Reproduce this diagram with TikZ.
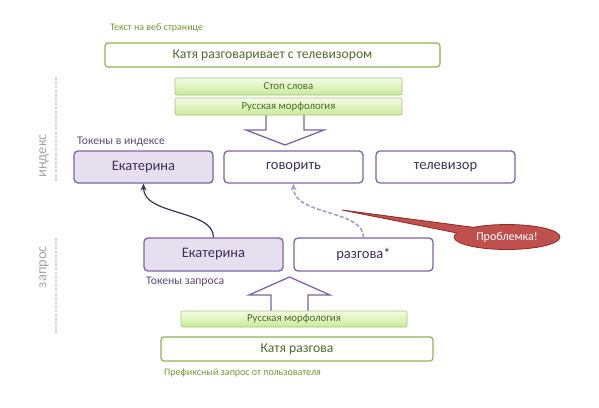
\documentclass[tikz,border=0pt]{standalone}
\usepackage{fontspec}
\setmainfont{Carlito}
\usetikzlibrary{shapes.callouts,shapes.geometric,arrows.meta}
\definecolor{grnline}{HTML}{8DB552}
\definecolor{grntext}{HTML}{6E9B32}
\definecolor{grndark}{HTML}{4F6B2A}
\definecolor{grntop}{HTML}{F4FCE6}
\definecolor{grnbot}{HTML}{C8EB98}
\definecolor{purline}{HTML}{7E63A6}
\definecolor{purtext}{HTML}{3E2F5B}
\definecolor{purlabel}{HTML}{5A4780}
\definecolor{purfill}{HTML}{E6E0EE}
\definecolor{dashpur}{HTML}{A79BC9}
\definecolor{redfill}{HTML}{C0504D}
\definecolor{redline}{HTML}{8C2B28}
\definecolor{sidegrey}{HTML}{A6A6A6}
\definecolor{sideline}{HTML}{D4D4D4}
\begin{document}
\begin{tikzpicture}[x=1pt,y=-1pt,
  webbox/.style={draw=grnline, line width=1.2pt, rounded corners=3pt, fill=white,
    text=grndark, font=\fontsize{13.6}{15}\selectfont, inner sep=0pt, minimum height=24pt},
  morphbox/.style={draw=grnline!80, line width=0.6pt, rounded corners=2pt, top color=grntop,
    bottom color=grnbot, text=grndark, font=\fontsize{10.8}{12}\selectfont, inner sep=0pt},
  tokbox/.style={draw=purline, line width=1.3pt, rounded corners=4pt, fill=white,
    text=purtext, font=\fontsize{14.5}{16}\selectfont, inner sep=0pt,
    minimum width=139pt, minimum height=32pt},
  hitbox/.style={tokbox, fill=purfill},
  greencap/.style={text=grntext, font=\fontsize{10}{12}\selectfont, anchor=west, inner sep=0pt},
  purcap/.style={text=purlabel, font=\fontsize{11.7}{13}\selectfont, anchor=west, inner sep=0pt},
  sidecap/.style={text=sidegrey, font=\fontsize{14.5}{16}\selectfont, rotate=90, inner sep=0pt},
  sidebar/.style={sideline, line width=2pt, dash pattern=on 3pt off 1.2pt},
  hollow/.style={draw=purline, line width=1.3pt, fill=white, line join=miter}
]
\useasboundingbox (0,0) rectangle (599,407);

% side labels
\draw[sidebar] (56,77) -- (56,182);
\draw[sidebar] (56,238) -- (56,333);
\node[sidecap] (lidx) at (44,156) {индекс};
\node[sidecap] (lq) at (44,267) {запрос};

% top part
\node[greencap] (capweb) at (110,28) {Текст на веб странице};
\node[webbox, minimum width=335pt] (web) at (272.5,55) {Катя разговаривает с телевизором};

% down hollow arrow
\draw[hollow] (266,114) -- (266,130) -- (246,130) -- (285,145) -- (324,130) -- (304,130) -- (304,114);

\node[morphbox, minimum width=227pt, minimum height=17pt] (stop) at (288.5,86.5) {Стоп слова};
\node[morphbox, minimum width=227pt, minimum height=17pt] (morph1) at (288.5,106.5) {Русская морфология};

% index tokens
\node[purcap] (capidx) at (77,142) {Токены в индексе};
\node[hitbox] (idx1) at (143.5,167) {Екатерина};
\node[tokbox] (idx2) at (293.5,167) {говорить};
\node[tokbox] (idx3) at (445.5,167) {телевизор};

% query tokens
\node[hitbox, minimum height=33pt] (q1) at (213.5,254.5) {Екатерина};
\node[tokbox, minimum height=33pt] (q2) at (363.5,254.5) {разгова*};
\node[purcap] (capq) at (146,282) {Токены запроса};

% connectors
\draw[-{Stealth[length=7pt,width=6pt]}, purtext, line width=1.2pt]
  (q1.north) .. controls +(0,-28) and +(0,32) .. (idx1.south);
\draw[-{Stealth[length=7pt,width=6pt]}, dashpur, line width=1.6pt, dash pattern=on 4pt off 2pt]
  (q2.north) .. controls +(0,-28) and +(0,32) .. (idx2.south);

% up hollow arrow
\draw[hollow] (271,312) -- (271,295) -- (249,295) -- (289.5,277) -- (330,295) -- (308,295) -- (308,312);

% bottom part
\node[morphbox, minimum width=226pt, minimum height=16pt] (morph2) at (294,319) {Русская морфология};
\node[webbox, minimum width=272pt] (user) at (297,349) {Катя разгова};
\node[greencap] (capuser) at (164,373) {Префиксный запрос от пользователя};

% callout
\coordinate (ptr) at (342,210);
\node[ellipse callout, draw=redline, line width=0.8pt, fill=redfill, text=white,
  font=\fontsize{12}{14}\selectfont, minimum width=106pt, minimum height=25pt, inner sep=0pt,
  callout absolute pointer={(ptr)}, callout pointer arc=32] (prob) at (507,237) {Проблемка!};
\end{tikzpicture}
\end{document}
